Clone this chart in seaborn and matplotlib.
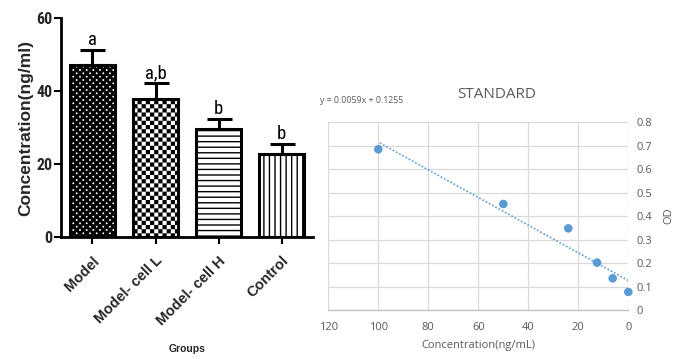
import warnings
import numpy as np
import pandas as pd
import matplotlib
matplotlib.use("Agg")
import matplotlib.pyplot as plt
import matplotlib.hatch as mhatch
import matplotlib.transforms as mtrans
from matplotlib.path import Path
import seaborn as sns

warnings.filterwarnings("ignore")

# ---------------- data ----------------
groups = ["Model", "Model- cell L", "Model- cell H", "Control"]
means = [47.0, 37.7, 29.7, 22.7]
sems = [4.2, 4.4, 2.6, 2.8]
letters = ["a", "a,b", "b", "b"]
hatches = ["xxxxx", "cccc", "---", "|||"]

std_conc = [100, 50, 24, 12.5, 6.25, 0]
std_od = [0.685, 0.452, 0.348, 0.202, 0.135, 0.077]
fit_slope = 0.0059
fit_intercept = 0.1255
x_ticks = [120, 100, 80, 60, 40, 20, 0]
y_ticks = [0, 0.1, 0.2, 0.3, 0.4, 0.5, 0.6, 0.7, 0.8]


# ---- custom checkerboard hatch ('c') ----
class CheckerHatch(mhatch.HatchPatternBase):
    def __init__(self, hatch, density):
        n = int(hatch.count("c") * density)
        if n % 2:
            n += 1
        self.n = n
        self.num_vertices = (n * n // 2) * 5 if n else 0

    def set_vertices_and_codes(self, vertices, codes):
        s = 1.0 / self.n
        k = 0
        for i in range(self.n):
            for j in range(self.n):
                if (i + j) % 2 == 0:
                    x0, y0 = i * s, j * s
                    vertices[k:k + 5] = [(x0, y0), (x0 + s, y0), (x0 + s, y0 + s),
                                         (x0, y0 + s), (x0, y0)]
                    codes[k:k + 5] = [Path.MOVETO, Path.LINETO, Path.LINETO,
                                      Path.LINETO, Path.CLOSEPOLY]
                    k += 5


mhatch._hatch_types.append(CheckerHatch)

sns.set_theme(style="white")
plt.rcParams["font.family"] = ["Liberation Sans", "DejaVu Sans"]
narrow = ["Roboto Condensed", "Liberation Sans Narrow", "Liberation Sans", "DejaVu Sans"]

fig = plt.figure(figsize=(6.83, 3.59), dpi=100)
fig.patch.set_facecolor("white")

# ---------------- left: bar chart ----------------
ax = fig.add_axes([0.0893, 0.3398, 0.369, 0.610])
df = pd.DataFrame({"group": groups, "mean": means})
sns.barplot(data=df, x="group", y="mean", color="white", edgecolor="black",
            linewidth=2.2, width=0.7, ax=ax, saturation=1, errorbar=None)
plt.rcParams["hatch.linewidth"] = 1.0
hlw = {"xxxxx": 2.1, "cccc": 0.05, "---": 1.0, "|||": 1.0}
for p, h in zip(ax.patches, hatches):
    p.set_hatch(h)
    p.set_facecolor("white")
    p.set_edgecolor("black")
    if hasattr(p, "set_hatch_linewidth"):
        p.set_hatch_linewidth(hlw[h])

centers = [p.get_x() + p.get_width() / 2 for p in ax.patches]
ax.errorbar(centers, means, yerr=[np.zeros(len(sems)), sems], fmt="none",
            ecolor="black", elinewidth=2.2, capsize=9, capthick=2.2, zorder=1)
for c, m, s, t in zip(centers, means, sems, letters):
    ax.text(c, m + s + 0.2, t, ha="center", va="bottom", fontsize=13.5,
            family=narrow, color="black")

ax.set_xlim(-0.5, 3.5)
ax.set_ylim(0, 60)
ax.set_yticks([0, 20, 40, 60])
ax.set_yticklabels(["0", "20", "40", "60"], fontsize=11.5, fontweight="bold",
                   family=narrow)
ax.set_xticks(range(len(groups)))
ax.set_xticklabels(groups, rotation=45, ha="right", rotation_mode="anchor",
                   fontsize=10.5, fontweight="bold")
shift = mtrans.ScaledTranslation(4 / 72, -2 / 72, fig.dpi_scale_trans)
for lab in ax.get_xticklabels():
    lab.set_transform(lab.get_transform() + shift)
ax.set_ylabel("Concentration(ng/ml)", fontsize=12.5, fontweight="bold", labelpad=2)
ax.set_xlabel("Groups", fontsize=7.5, fontweight="bold")
ax.xaxis.set_label_coords(0.5, -0.49)
for side in ["top", "right"]:
    ax.spines[side].set_visible(False)
for side in ["left", "bottom"]:
    ax.spines[side].set_linewidth(2)
    ax.spines[side].set_color("black")
ax.tick_params(axis="both", direction="out", length=5, width=1.5, color="black",
               bottom=True, left=True)
ax.tick_params(axis="x", pad=7)
ax.tick_params(axis="y", pad=1)

# ---------------- right: standard curve ----------------
gray = "#595959"
blue = "#5b9bd5"
sans = ["Open Sans", "DejaVu Sans"]
ax2 = fig.add_axes([0.4807, 0.1365, 0.4392, 0.5228])
sdf = pd.DataFrame({"conc": std_conc, "od": std_od})
x_fit = np.array([min(std_conc), max(std_conc)])
fdf = pd.DataFrame({"conc": x_fit, "od": fit_slope * x_fit + fit_intercept})
sns.lineplot(data=fdf, x="conc", y="od", ax=ax2, color=blue, linewidth=1.2,
             linestyle=(0, (1, 1.2)), zorder=2)
sns.scatterplot(data=sdf, x="conc", y="od", ax=ax2, color=blue, s=38,
                edgecolor="none", zorder=3, clip_on=False)
ax2.set_xlim(120, 0)
ax2.set_ylim(0, 0.8)
ax2.set_xticks(x_ticks)
ax2.set_xticklabels([f"{v:g}" for v in x_ticks])
ax2.set_yticks(y_ticks)
ax2.set_yticklabels([f"{v:g}" for v in y_ticks])
ax2.yaxis.tick_right()
ax2.yaxis.set_label_position("right")
ax2.grid(True, color="#d9d9d9", linewidth=0.9)
ax2.set_axisbelow(True)
for side in ["top", "right", "left"]:
    ax2.spines[side].set_visible(False)
ax2.spines["bottom"].set_color("#bfbfbf")
ax2.spines["bottom"].set_linewidth(0.9)
ax2.tick_params(axis="both", length=0, labelsize=8, labelcolor=gray)
ax2.tick_params(axis="x", pad=9)
ax2.tick_params(axis="y", pad=6)
for lab in ax2.get_xticklabels() + ax2.get_yticklabels():
    lab.set_family(sans)
ax2.set_xlabel("Concentration(ng/mL)", fontsize=8, color=gray, labelpad=5, family=sans)
ax2.set_ylabel("OD", fontsize=8, color=gray, labelpad=8, family=sans)
fig.text(497 / 683, 1 - 94 / 359, "STANDARD", ha="center", va="center",
         fontsize=11, color=gray, family=sans)
fig.text(320 / 683, 1 - 100.5 / 359,
         f"y = {fit_slope:.4f}x + {fit_intercept:.4f}", ha="left", va="center",
         fontsize=6.3, color=gray, family=sans)

fig.savefig("out.png", dpi=100, facecolor="white")
